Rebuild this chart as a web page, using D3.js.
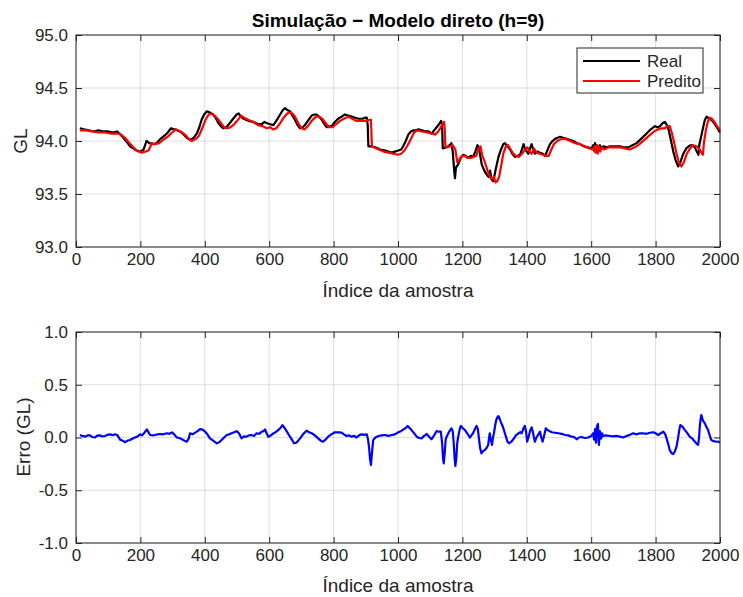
<!DOCTYPE html>
<html>
<head>
<meta charset="utf-8">
<script src="https://cdn.jsdelivr.net/npm/d3@7"></script>
<style>
  body { margin: 0; background: #fff; }
  svg { font-family: "Liberation Sans", Arial, sans-serif; }
  .tick text { fill: #262626; font-size: 17px; }
  .tick line { stroke: #262626; }
  .domain { stroke: none; }
</style>
</head>
<body>
<svg width="743" height="597"></svg>
<script>
// sample index, value
var real = [[12,94.12],[25,94.11],[40,94.10],[55,94.09],[70,94.10],[85,94.09],[100,94.09],[115,94.08],[127,94.09],[135,94.07],[147,94.03],[158,93.99],[168,93.95],[178,93.93],[188,93.91],[200,93.90],[210,93.92],[219,94.00],[228,93.98],[240,93.97],[250,93.98],[262,94.02],[275,94.05],[285,94.08],[295,94.12],[305,94.11],[315,94.10],[323,94.09],[335,94.06],[344,94.03],[354,94.01],[365,94.03],[375,94.07],[383,94.13],[390,94.20],[398,94.25],[406,94.28],[415,94.27],[426,94.25],[435,94.21],[442,94.17],[450,94.14],[457,94.12],[467,94.13],[478,94.17],[488,94.21],[499,94.25],[505,94.26],[512,94.23],[520,94.21],[535,94.19],[551,94.18],[565,94.16],[577,94.16],[585,94.18],[592,94.17],[600,94.16],[613,94.15],[622,94.19],[634,94.25],[642,94.29],[649,94.31],[657,94.29],[665,94.28],[672,94.24],[680,94.20],[688,94.15],[696,94.12],[704,94.13],[711,94.15],[720,94.19],[732,94.24],[740,94.25],[747,94.25],[755,94.23],[763,94.20],[771,94.16],[779,94.13],[788,94.14],[794,94.14],[804,94.18],[814,94.21],[825,94.23],[835,94.25],[845,94.24],[856,94.23],[867,94.22],[877,94.21],[890,94.21],[897,94.22],[903,94.22],[906,94.15],[908,93.95],[918,93.95],[929,93.94],[945,93.92],[960,93.91],[970,93.90],[980,93.89],[990,93.90],[1001,93.91],[1010,93.92],[1016,93.95],[1024,94.00],[1032,94.06],[1040,94.09],[1047,94.10],[1055,94.10],[1063,94.11],[1075,94.10],[1084,94.09],[1095,94.09],[1105,94.07],[1112,94.10],[1120,94.13],[1128,94.16],[1134,94.19],[1137,94.15],[1139,93.93],[1148,93.94],[1156,93.95],[1163,93.97],[1166,93.98],[1170,93.90],[1175,93.70],[1177,93.65],[1180,93.75],[1187,93.78],[1195,93.84],[1202,93.87],[1210,93.86],[1218,93.84],[1226,93.86],[1233,93.85],[1240,93.90],[1247,93.96],[1252,93.92],[1260,93.78],[1268,93.72],[1276,93.68],[1282,93.66],[1286,93.72],[1290,93.64],[1296,93.62],[1304,93.74],[1312,93.85],[1320,93.92],[1327,93.97],[1332,93.98],[1340,93.95],[1348,93.92],[1355,93.88],[1363,93.85],[1372,93.86],[1379,93.87],[1386,93.93],[1390,93.97],[1395,93.92],[1400,93.90],[1405,93.88],[1410,93.93],[1415,93.97],[1420,93.92],[1425,93.88],[1433,93.90],[1441,93.89],[1450,93.88],[1457,93.86],[1465,93.92],[1472,93.97],[1480,94.00],[1488,94.02],[1496,94.03],[1503,94.04],[1513,94.03],[1524,94.02],[1535,94.01],[1545,94.00],[1555,93.98],[1566,93.97],[1576,93.95],[1588,93.94],[1601,93.93],[1606,93.96],[1609,93.91],[1612,93.98],[1615,93.90],[1618,93.96],[1622,93.92],[1627,93.96],[1632,93.93],[1638,93.95],[1648,93.94],[1658,93.95],[1670,93.95],[1689,93.95],[1700,93.94],[1715,93.94],[1728,93.96],[1741,93.98],[1755,94.02],[1772,94.07],[1785,94.11],[1798,94.14],[1806,94.13],[1814,94.14],[1822,94.17],[1829,94.18],[1835,94.15],[1841,94.10],[1848,94.00],[1855,93.90],[1862,93.82],[1870,93.76],[1877,93.80],[1886,93.88],[1895,93.93],[1907,93.96],[1915,93.96],[1922,93.94],[1928,93.90],[1933,93.87],[1936,93.97],[1940,94.02],[1947,94.12],[1953,94.20],[1959,94.23],[1966,94.21],[1973,94.20],[1979,94.18],[1990,94.13],[2000,94.08]];

var predito = [[12,94.10],[30,94.10],[50,94.09],[70,94.08],[90,94.08],[110,94.07],[130,94.07],[140,94.06],[152,94.03],[163,93.99],[175,93.95],[185,93.92],[195,93.90],[205,93.89],[215,93.90],[225,93.91],[230,93.94],[235,93.98],[245,93.97],[258,93.98],[270,94.01],[285,94.04],[298,94.08],[310,94.11],[318,94.10],[330,94.08],[342,94.05],[350,94.02],[360,94.00],[372,94.02],[382,94.05],[392,94.12],[402,94.20],[412,94.25],[420,94.26],[430,94.24],[440,94.21],[450,94.17],[460,94.13],[470,94.12],[480,94.13],[492,94.16],[503,94.20],[513,94.24],[522,94.22],[535,94.20],[550,94.18],[565,94.15],[580,94.14],[592,94.12],[603,94.13],[612,94.11],[622,94.12],[632,94.16],[645,94.22],[656,94.26],[663,94.27],[672,94.26],[680,94.23],[690,94.17],[700,94.12],[710,94.11],[720,94.14],[732,94.19],[745,94.23],[755,94.23],[765,94.21],[775,94.17],[785,94.13],[797,94.13],[808,94.16],[820,94.19],[832,94.21],[845,94.23],[858,94.21],[870,94.19],[885,94.19],[900,94.19],[912,94.20],[916,94.20],[919,93.95],[925,93.94],[940,93.92],[955,93.90],[970,93.89],[985,93.88],[1000,93.87],[1010,93.88],[1020,93.91],[1030,93.96],[1040,94.02],[1050,94.08],[1060,94.10],[1075,94.09],[1090,94.08],[1105,94.07],[1115,94.06],[1125,94.09],[1135,94.14],[1143,94.18],[1145,94.12],[1147,93.95],[1155,93.94],[1162,93.95],[1170,93.96],[1178,93.92],[1184,93.80],[1190,93.82],[1198,93.86],[1207,93.86],[1216,93.84],[1226,93.84],[1235,93.85],[1243,93.86],[1250,93.93],[1256,93.95],[1262,93.86],[1270,93.80],[1278,93.72],[1286,93.66],[1292,93.64],[1298,93.66],[1303,93.61],[1308,93.62],[1314,93.66],[1320,93.76],[1327,93.88],[1335,93.95],[1342,93.96],[1350,93.92],[1358,93.88],[1366,93.86],[1375,93.85],[1385,93.88],[1395,93.92],[1402,93.94],[1408,93.90],[1415,93.88],[1422,93.93],[1430,93.89],[1440,93.88],[1450,93.87],[1460,93.86],[1468,93.86],[1475,93.91],[1484,93.97],[1495,94.00],[1508,94.02],[1520,94.02],[1535,94.00],[1550,93.98],[1565,93.97],[1580,93.95],[1595,93.93],[1605,93.92],[1610,93.95],[1613,93.89],[1617,93.96],[1620,93.88],[1624,93.95],[1628,93.90],[1633,93.94],[1640,93.92],[1655,93.94],[1670,93.94],[1690,93.94],[1705,93.93],[1720,93.92],[1735,93.94],[1750,93.97],[1765,94.01],[1780,94.05],[1795,94.09],[1808,94.11],[1818,94.12],[1828,94.12],[1838,94.14],[1844,94.14],[1850,94.08],[1858,93.98],[1865,93.88],[1872,93.80],[1880,93.76],[1888,93.80],[1897,93.88],[1907,93.93],[1917,93.96],[1927,93.95],[1937,93.92],[1944,93.88],[1947,93.87],[1950,93.98],[1956,94.10],[1962,94.18],[1968,94.22],[1975,94.21],[1985,94.17],[1993,94.13],[2000,94.10]];

var erro = [[12,0.024],[20,0.015],[28,0.008],[36,0.02],[43,0.02],[50,0.005],[59,0.0],[66,0.018],[74,0.02],[82,0.01],[90,0.014],[98,0.025],[106,0.03],[114,0.022],[121,0.03],[129,0.02],[137,-0.02],[145,-0.03],[152,-0.045],[160,-0.03],[168,-0.024],[176,-0.01],[183,0.0],[191,0.01],[199,0.03],[205,0.02],[211,0.04],[216,0.06],[220,0.077],[225,0.05],[230,0.024],[238,0.02],[245,0.024],[253,0.03],[261,0.033],[270,0.03],[282,0.04],[290,0.035],[298,0.049],[305,0.03],[313,0.0],[321,-0.005],[329,-0.017],[337,-0.03],[344,-0.04],[350,-0.01],[354,0.04],[362,0.03],[370,0.046],[378,0.06],[385,0.08],[393,0.075],[401,0.055],[408,0.03],[416,-0.008],[426,-0.03],[437,-0.055],[445,-0.045],[452,-0.024],[460,0.0],[468,0.024],[476,0.03],[483,0.04],[491,0.05],[499,0.06],[506,0.04],[514,-0.008],[522,0.01],[530,0.008],[537,0.02],[545,0.024],[553,0.015],[561,0.04],[569,0.035],[577,0.055],[582,0.06],[587,0.077],[592,0.04],[597,0.008],[605,0.02],[613,0.04],[620,0.05],[628,0.07],[635,0.09],[641,0.118],[648,0.09],[654,0.06],[662,0.02],[670,-0.017],[677,-0.055],[684,-0.05],[690,-0.03],[696,-0.008],[705,0.03],[716,0.065],[724,0.05],[732,0.04],[742,0.02],[752,-0.008],[760,-0.03],[767,-0.04],[775,-0.02],[783,0.008],[793,0.03],[804,0.05],[815,0.048],[825,0.046],[832,0.03],[840,0.014],[848,0.02],[856,0.008],[864,0.015],[871,0.0],[879,0.02],[887,0.03],[895,0.025],[903,0.03],[907,-0.02],[910,-0.09],[913,-0.2],[916,-0.26],[919,-0.15],[923,-0.024],[930,0.0],[939,0.014],[950,0.02],[960,0.024],[970,0.015],[981,0.024],[990,0.03],[1001,0.05],[1009,0.06],[1017,0.077],[1024,0.09],[1030,0.11],[1036,0.09],[1042,0.07],[1050,0.04],[1058,0.008],[1066,-0.005],[1073,-0.008],[1081,0.015],[1089,0.033],[1096,0.01],[1104,-0.017],[1112,0.02],[1120,0.06],[1127,0.055],[1133,0.055],[1137,-0.05],[1140,-0.2],[1142,-0.245],[1145,-0.15],[1148,-0.02],[1151,0.008],[1158,0.05],[1166,0.087],[1170,0.06],[1173,-0.05],[1176,-0.2],[1178,-0.27],[1181,-0.2],[1184,-0.05],[1187,0.008],[1191,0.07],[1195,0.11],[1201,0.09],[1208,0.07],[1215,0.04],[1223,0.0],[1228,0.02],[1233,0.04],[1239,0.08],[1244,0.11],[1248,0.08],[1251,0.0],[1255,-0.1],[1259,-0.15],[1264,-0.13],[1269,-0.12],[1275,-0.1],[1280,-0.07],[1283,0.0],[1285,0.04],[1288,-0.02],[1292,-0.07],[1295,0.0],[1298,0.04],[1301,0.1],[1305,0.166],[1310,0.2],[1313,0.2],[1319,0.15],[1326,0.1],[1333,0.03],[1340,-0.04],[1345,-0.055],[1352,-0.04],[1358,-0.017],[1366,0.02],[1374,0.04],[1380,0.05],[1384,0.04],[1390,0.09],[1394,0.11],[1398,0.05],[1401,-0.04],[1406,0.01],[1410,0.06],[1415,0.096],[1419,0.05],[1425,-0.04],[1430,0.0],[1436,0.03],[1441,0.055],[1445,0.0],[1449,-0.04],[1454,0.02],[1459,0.087],[1465,0.07],[1477,0.05],[1488,0.045],[1498,0.04],[1508,0.035],[1519,0.024],[1529,0.02],[1539,0.008],[1547,0.005],[1555,-0.017],[1562,0.0],[1570,0.005],[1580,-0.005],[1591,0.0],[1600,0.015],[1606,0.04],[1609,-0.02],[1612,0.08],[1615,-0.05],[1618,0.11],[1621,0.128],[1624,-0.07],[1627,0.06],[1631,-0.01],[1634,0.04],[1637,0.014],[1645,0.02],[1658,0.014],[1668,0.01],[1678,0.015],[1689,0.008],[1699,0.0],[1710,0.014],[1720,0.025],[1730,0.04],[1740,0.03],[1751,0.04],[1761,0.04],[1772,0.035],[1782,0.045],[1793,0.05],[1800,0.04],[1808,0.024],[1816,0.04],[1824,0.055],[1830,0.03],[1834,-0.008],[1839,-0.06],[1844,-0.12],[1850,-0.15],[1855,-0.157],[1860,-0.13],[1865,-0.087],[1870,0.0],[1874,0.08],[1877,0.118],[1884,0.1],[1891,0.07],[1899,0.04],[1906,0.008],[1914,-0.01],[1922,-0.04],[1928,-0.06],[1932,-0.07],[1935,0.0],[1937,0.1],[1940,0.18],[1942,0.213],[1947,0.16],[1953,0.134],[1958,0.1],[1963,0.07],[1968,0.02],[1973,-0.024],[1980,-0.035],[1989,-0.04],[1995,-0.038],[2000,-0.05]];

var xTicks = d3.range(0, 2001, 200);
var glTicks = [93.0, 93.5, 94.0, 94.5, 95.0];
var erroTicks = [-1.0, -0.5, 0.0, 0.5, 1.0];

var svg = d3.select("svg");
var axColor = "#262626";

function panel(top, h, yDomain, yTicks) {
    var left = 76, w = 644;
    var g = svg.append("g").attr("transform", "translate(" + left + "," + top + ")");
    var x = d3.scaleLinear().domain([0, 2000]).range([0, w]);
    var y = d3.scaleLinear().domain(yDomain).range([h, 0]);

    // grid
    g.append("g").selectAll("line").data(xTicks).enter().append("line")
        .attr("x1", x).attr("x2", x).attr("y1", 0).attr("y2", h)
        .attr("stroke", axColor).attr("stroke-opacity", 0.15);
    g.append("g").selectAll("line").data(yTicks).enter().append("line")
        .attr("y1", y).attr("y2", y).attr("x1", 0).attr("x2", w)
        .attr("stroke", axColor).attr("stroke-opacity", 0.15);

    var fmt = function(d) { return d.toFixed(1); };
    g.append("g").attr("transform", "translate(0," + h + ")")
        .call(d3.axisBottom(x).tickValues(xTicks).tickSize(-6).tickPadding(6).tickFormat(d3.format("d")));
    g.append("g")
        .call(d3.axisTop(x).tickValues(xTicks).tickSize(-6).tickFormat(""));
    g.append("g")
        .call(d3.axisLeft(y).tickValues(yTicks).tickSize(-6).tickPadding(8).tickFormat(fmt));
    g.append("g").attr("transform", "translate(" + w + ",0)")
        .call(d3.axisRight(y).tickValues(yTicks).tickSize(-6).tickFormat(""));

    return {g: g, x: x, y: y, w: w, h: h};
}

function draw(p, data, color) {
    var line = d3.line().x(function(d) { return p.x(d[0]); }).y(function(d) { return p.y(d[1]); });
    p.g.append("path").datum(data)
        .attr("fill", "none").attr("stroke", color).attr("stroke-width", 2.2)
        .attr("stroke-linejoin", "round").attr("d", line);
}

function box(p) {
    p.g.append("rect").attr("width", p.w).attr("height", p.h)
        .attr("fill", "none").attr("stroke", axColor).attr("stroke-width", 1);
}

// top panel
var p1 = panel(35, 212, [93, 95], glTicks);
draw(p1, real, "#000000");
draw(p1, predito, "#ff0000");
box(p1);

// legend
var lg = svg.append("g").attr("transform", "translate(577,48)");
lg.append("rect").attr("width", 126).attr("height", 45)
    .attr("fill", "#fff").attr("stroke", axColor);
[["Real", "#000000"], ["Predito", "#ff0000"]].forEach(function(e, i) {
    var yy = 13 + i * 20;
    lg.append("line").attr("x1", 6).attr("x2", 63).attr("y1", yy).attr("y2", yy)
        .attr("stroke", e[1]).attr("stroke-width", 2);
    lg.append("text").attr("x", 70).attr("y", yy).attr("dy", "0.35em")
        .attr("font-size", 17).attr("fill", axColor).text(e[0]);
});

// bottom panel
var p2 = panel(332, 211, [-1, 1], erroTicks);
draw(p2, erro, "#0000ff");
box(p2);

// texts
svg.append("text").attr("x", 398).attr("y", 27).attr("text-anchor", "middle")
    .attr("font-size", 19).attr("font-weight", "bold").attr("fill", "#000")
    .text("Simulação − Modelo direto (h=9)");
svg.append("text").attr("x", 398).attr("y", 297).attr("text-anchor", "middle")
    .attr("font-size", 19).attr("fill", axColor).text("Índice da amostra");
svg.append("text").attr("x", 398).attr("y", 592).attr("text-anchor", "middle")
    .attr("font-size", 19).attr("fill", axColor).text("Índice da amostra");
svg.append("text").attr("transform", "translate(27,141) rotate(-90)")
    .attr("text-anchor", "middle").attr("font-size", 19).attr("fill", axColor).text("GL");
svg.append("text").attr("transform", "translate(30,437) rotate(-90)")
    .attr("text-anchor", "middle").attr("font-size", 19).attr("fill", axColor).text("Erro (GL)");
</script>
</body>
</html>
